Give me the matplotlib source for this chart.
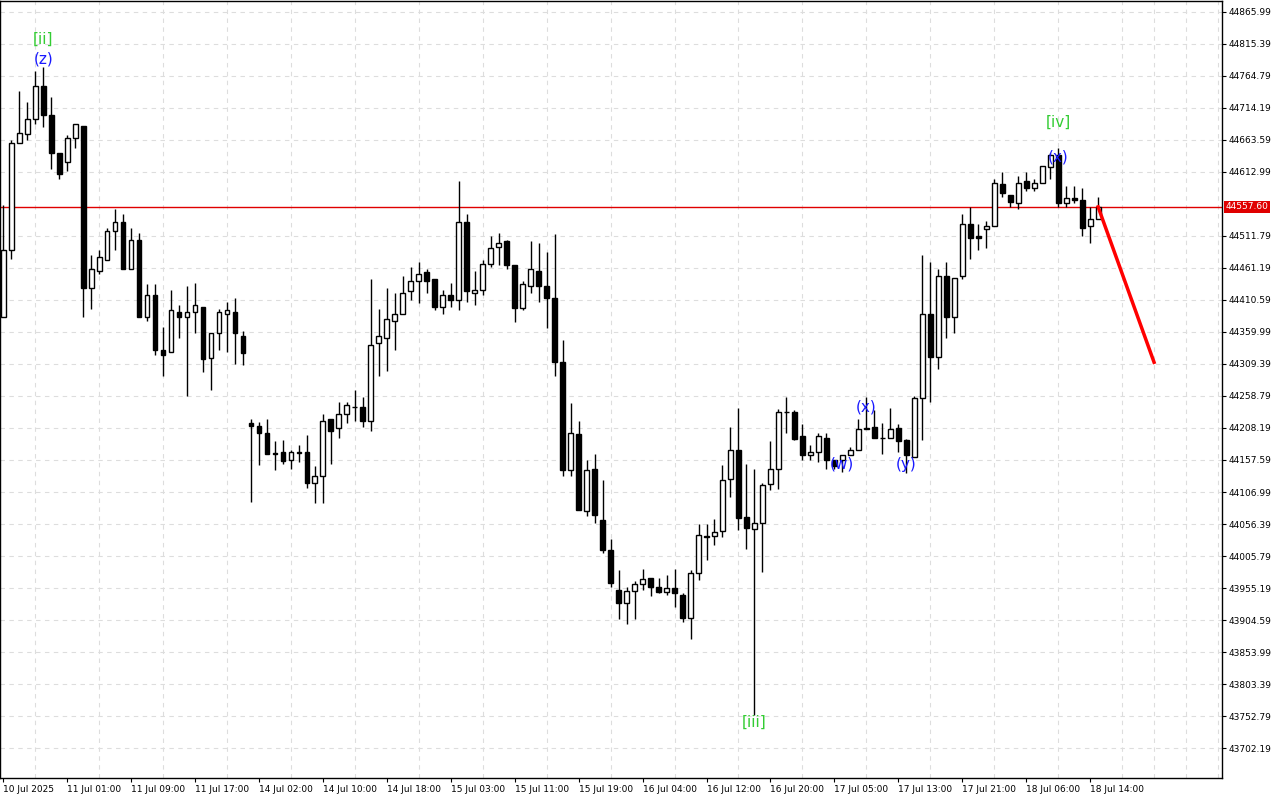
import matplotlib
matplotlib.use("Agg")
import matplotlib.pyplot as plt
import numpy as np

# hourly OHLC
opens = [44383, 44490, 44658, 44673, 44696, 44748, 44703, 44642, 44628, 44666,
         44686, 44429, 44456, 44474, 44519, 44533, 44460, 44506, 44384, 44419,
         44332, 44328, 44392, 44383, 44392, 44400, 44318, 44358, 44389, 44392,
         44354, 44216, 44212, 44201, 44168, 44170, 44157, 44168, 44170, 44122,
         44132, 44222, 44208, 44231, 44241, 44241, 44220, 44342, 44351, 44378,
         44388, 44424, 44440, 44454, 44443, 44399, 44418, 44411, 44533, 44422,
         44427, 44468, 44495, 44503, 44465, 44398, 44433, 44457, 44432, 44414,
         44313, 44141, 44198, 44077, 44143, 44062, 44015, 43952, 43931, 43950,
         43961, 43971, 43957, 43949, 43955, 43945, 43908, 43979, 44037, 44037,
         44045, 44127, 44174, 44067, 44048, 44058, 44119, 44144, 44234, 44233,
         44195, 44165, 44170, 44193, 44157, 44157, 44166, 44173, 44206, 44209,
         44193, 44193, 44208, 44189, 44163, 44255, 44388, 44321, 44449, 44383,
         44448, 44530, 44512, 44522, 44528, 44594, 44577, 44564, 44598, 44588,
         44596, 44621, 44640, 44563, 44571, 44569, 44527, 44539]
highs = [44560, 44664, 44740, 44724, 44773, 44778, 44732, 44642, 44672, 44689,
         44686, 44481, 44490, 44525, 44555, 44546, 44525, 44517, 44435, 44435,
         44367, 44427, 44402, 44433, 44438, 44400, 44359, 44397, 44408, 44413,
         44361, 44222, 44217, 44223, 44187, 44189, 44174, 44182, 44197, 44148,
         44230, 44222, 44249, 44249, 44268, 44257, 44443, 44397, 44429, 44421,
         44449, 44463, 44470, 44460, 44443, 44427, 44437, 44598, 44547, 44457,
         44474, 44512, 44516, 44506, 44465, 44440, 44504, 44501, 44486, 44514,
         44347, 44247, 44220, 44157, 44167, 44126, 44032, 43983, 43957, 43966,
         43985, 43971, 43971, 43976, 43985, 43947, 43983, 44056, 44056, 44064,
         44149, 44209, 44239, 44151, 44143, 44121, 44187, 44238, 44257, 44236,
         44214, 44181, 44200, 44201, 44157, 44166, 44178, 44222, 44257, 44236,
         44216, 44239, 44214, 44190, 44258, 44482, 44470, 44459, 44471, 44446,
         44546, 44558, 44530, 44536, 44602, 44612, 44577, 44607, 44612, 44601,
         44623, 44642, 44650, 44590, 44590, 44587, 44558, 44574]
lows = [44383, 44476, 44658, 44664, 44689, 44684, 44617, 44601, 44615, 44651,
        44383, 44397, 44452, 44474, 44490, 44459, 44459, 44383, 44377, 44324,
        44291, 44328, 44350, 44258, 44359, 44296, 44269, 44332, 44328, 44310,
        44307, 44091, 44149, 44167, 44141, 44152, 44143, 44154, 44113, 44089,
        44089, 44152, 44193, 44216, 44219, 44209, 44203, 44290, 44298, 44332,
        44388, 44411, 44405, 44422, 44394, 44389, 44400, 44394, 44408, 44402,
        44419, 44462, 44465, 44460, 44375, 44394, 44421, 44408, 44366, 44291,
        44132, 44133, 44078, 44069, 44058, 44010, 43957, 43906, 43898, 43906,
        43952, 43942, 43947, 43945, 43925, 43901, 43874, 43968, 43999, 44023,
        44036, 44099, 44047, 44017, 43754, 43980, 44110, 44111, 44200, 44189,
        44157, 44157, 44154, 44143, 44143, 44138, 44165, 44173, 44206, 44192,
        44167, 44193, 44170, 44137, 44163, 44189, 44249, 44301, 44350, 44359,
        44444, 44476, 44490, 44492, 44527, 44574, 44558, 44555, 44582, 44582,
        44596, 44602, 44558, 44557, 44564, 44511, 44500, 44539]
closes = [44489, 44659, 44675, 44696, 44748, 44703, 44643, 44609, 44666, 44688,
          44429, 44459, 44478, 44519, 44533, 44459, 44506, 44384, 44418, 44332,
          44324, 44394, 44383, 44392, 44402, 44317, 44359, 44391, 44394, 44358,
          44326, 44211, 44200, 44167, 44167, 44156, 44170, 44170, 44122, 44132,
          44220, 44204, 44230, 44244, 44242, 44220, 44340, 44353, 44380, 44388,
          44422, 44440, 44452, 44441, 44400, 44419, 44411, 44533, 44424, 44427,
          44468, 44493, 44501, 44465, 44398, 44435, 44459, 44433, 44414, 44312,
          44141, 44200, 44078, 44141, 44070, 44015, 43963, 43931, 43950, 43961,
          43969, 43957, 43949, 43955, 43947, 43908, 43979, 44039, 44036, 44043,
          44126, 44174, 44066, 44050, 44058, 44118, 44144, 44234, 44233, 44190,
          44165, 44170, 44195, 44157, 44148, 44166, 44173, 44206, 44208, 44192,
          44192, 44206, 44187, 44165, 44255, 44389, 44321, 44448, 44383, 44446,
          44530, 44509, 44509, 44528, 44596, 44579, 44566, 44596, 44588, 44596,
          44623, 44639, 44563, 44571, 44568, 44525, 44539, 44557.60]

last_price = 44557.60
forecast_end_idx = 144
forecast_end_price = 44312

tick_idx = list(range(0, 137, 8))
tick_labels = ["10 Jul 2025", "11 Jul 01:00", "11 Jul 09:00", "11 Jul 17:00",
               "14 Jul 02:00", "14 Jul 10:00", "14 Jul 18:00", "15 Jul 03:00",
               "15 Jul 11:00", "15 Jul 19:00", "16 Jul 04:00", "16 Jul 12:00",
               "16 Jul 20:00", "17 Jul 05:00", "17 Jul 13:00", "17 Jul 21:00",
               "18 Jul 06:00", "18 Jul 14:00"]
price_ticks = [44865.99, 44815.39, 44764.79, 44714.19, 44663.59, 44612.99,
               44511.79, 44461.19, 44410.59, 44359.99, 44309.39, 44258.79,
               44208.19, 44157.59, 44106.99, 44056.39, 44005.79, 43955.19,
               43904.59, 43853.99, 43803.39, 43752.79, 43702.19]

# wave labels: (text, candle index, price, colour)
wave_labels = [("[ii]", 5, 44822, "#33cc33"), ("(z)", 5, 44792, "#1a1aff"),
               ("[iii]", 94, 43743, "#33cc33"), ("(w)", 105, 44151, "#1a1aff"),
               ("(x)", 108, 44242, "#1a1aff"), ("(y)", 113, 44151, "#1a1aff"),
               ("[iv]", 132, 44692, "#33cc33"), ("(x)", 132, 44636, "#1a1aff")]

fig = plt.figure(figsize=(12.8, 8), dpi=100)
ax = fig.add_axes([0.0, 22 / 800, 1222 / 1280, 777 / 800])

x = np.arange(len(opens))
o = np.array(opens); c = np.array(closes)
ax.vlines(x, lows, highs, color="black", linewidth=1, zorder=2)
up = c >= o
ax.bar(x[up], (c - o)[up], bottom=o[up], width=0.6, facecolor="white",
       edgecolor="black", linewidth=1, zorder=3)
ax.bar(x[~up], (o - c)[~up], bottom=c[~up], width=0.6, facecolor="black",
       edgecolor="black", linewidth=1, zorder=3)

ax.axhline(last_price, color="#e00000", linewidth=1, zorder=1)
ax.plot([len(opens) - 1, forecast_end_idx], [last_price, forecast_end_price],
        color="#ff0000", linewidth=2.5, zorder=4)

for txt, i, p, col in wave_labels:
    ax.text(i, p, txt, color=col, fontsize=11, ha="center", va="center", zorder=5)

ax.set_xlim(-0.4, 152.5)
ax.set_ylim(43655, 44883)
ax.set_xticks(tick_idx)
ax.set_xticklabels(tick_labels, fontsize=6.5, ha="left")
ax.set_xticks(np.arange(0, 153, 4), minor=True)
ax.yaxis.tick_right()
ax.set_yticks(price_ticks)
ax.set_yticklabels([f"{p:.2f}" for p in price_ticks], fontsize=6.5)
ax.tick_params(length=3, width=0.8, pad=2)
ax.tick_params(which="minor", length=0)
ax.grid(True, which="minor", axis="x", color="#dddddd", linestyle=(0, (4, 4)), linewidth=0.8)
ax.grid(True, which="major", axis="y", color="#dddddd", linestyle=(0, (4, 4)), linewidth=0.8)
ax.set_axisbelow(True)
for s in ax.spines.values():
    s.set_linewidth(1)

ax.text(1.003, last_price, f"{last_price:.2f}", transform=ax.get_yaxis_transform(),
        fontsize=6.5, color="white", va="center", ha="left",
        bbox=dict(boxstyle="square,pad=0.15", facecolor="#e00000", edgecolor="none"))

fig.savefig("out.png", dpi=100)
